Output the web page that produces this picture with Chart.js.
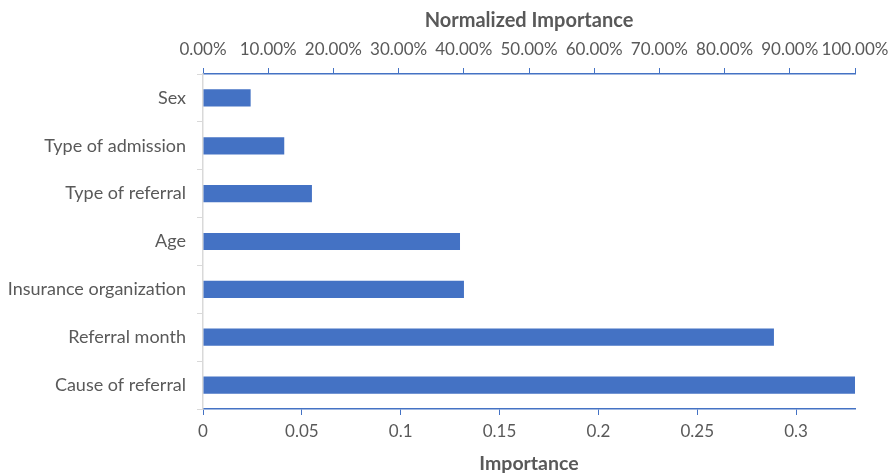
<!DOCTYPE html>
<html>
<head>
<meta charset="utf-8">
<script src="https://cdn.jsdelivr.net/npm/chart.js@4"></script>
<style>
  html, body { margin: 0; padding: 0; background: #fff; }
  #wrap { width: 890px; height: 473px; }
</style>
</head>
<body>
<div id="wrap"><canvas id="myChart"></canvas></div>
<script>
// Feature names, top to bottom
const features = ["Sex", "Type of admission", "Type of referral", "Age",
  "Insurance organization", "Referral month", "Cause of referral"];
// Importance values
const importance = [0.0241, 0.0411, 0.0551, 0.130, 0.132, 0.2888, 0.3298];
// Tick values for the two axes
const importanceTicks = [0, 0.05, 0.1, 0.15, 0.2, 0.25, 0.3];
const normalizedTicks = [0, 0.1, 0.2, 0.3, 0.4, 0.5, 0.6, 0.7, 0.8, 0.9, 1];

const barColor = "#4472C4";
const textColor = "#595959";
const fontFamily = "Lato, sans-serif";

const ctx = document.getElementById("myChart").getContext("2d");
const myChart = new Chart(ctx, {
  type: "bar",
  data: {
    labels: features,
    datasets: [{
      label: "Importance",
      data: importance,
      backgroundColor: barColor,
      barPercentage: 0.36,
      categoryPercentage: 1,
      xAxisID: "x",
    }],
  },
  options: {
    indexAxis: "y",
    responsive: true,
    maintainAspectRatio: false,
    animation: false,
    layout: { padding: { left: 0, right: 35, top: 0, bottom: 0 } },
    plugins: { legend: { display: false }, tooltip: { enabled: false } },
    scales: {
      x: {
        position: "bottom",
        min: 0,
        max: Math.max(...importance),
        ticks: {
          color: textColor,
          font: { family: fontFamily, size: 17 },
          padding: 6,
          maxRotation: 0,
          autoSkip: false,
          callback: (v) => String(+v.toFixed(2)),
        },
        afterBuildTicks: (scale) => {
          scale.ticks = importanceTicks.map((v) => ({ value: v }));
        },
        grid: { drawOnChartArea: false, color: barColor, tickLength: 6 },
        border: { color: barColor, width: 1.5 },
        title: {
          display: true,
          text: "Importance",
          color: textColor,
          font: { family: fontFamily, size: 19.5, weight: "bold", lineHeight: 1.0 },
          padding: { top: 0, bottom: 0 },
        },
        afterFit: (scale) => {
          scale.height = 64;
          scale.paddingRight = 0;
        },
      },
      x2: {
        position: "top",
        display: true,
        min: 0,
        max: 1,
        ticks: {
          color: textColor,
          font: { family: fontFamily, size: 17 },
          padding: 8,
          maxRotation: 0,
          autoSkip: false,
          callback: (v) => (v * 100).toFixed(2) + "%",
        },
        afterBuildTicks: (scale) => {
          scale.ticks = normalizedTicks.map((v) => ({ value: v }));
        },
        grid: { drawOnChartArea: false, color: barColor, tickLength: 6 },
        border: { color: barColor, width: 1.5 },
        title: {
          display: true,
          text: "Normalized Importance",
          color: textColor,
          font: { family: fontFamily, size: 20, weight: "bold" },
          padding: { top: 9, bottom: 0 },
        },
        afterFit: (scale) => {
          scale.height = 74;
          scale.paddingRight = 0;
        },
      },
      y: {
        ticks: {
          color: textColor,
          font: { family: fontFamily, size: 18 },
          padding: 11,
        },
        grid: { drawOnChartArea: false, offset: true, color: "#D9D9D9", tickLength: 6 },
        border: { color: "#D9D9D9", width: 1.5 },
        afterFit: (scale) => { scale.width = 203; },
      },
    },
  },
});
</script>
</body>
</html>
